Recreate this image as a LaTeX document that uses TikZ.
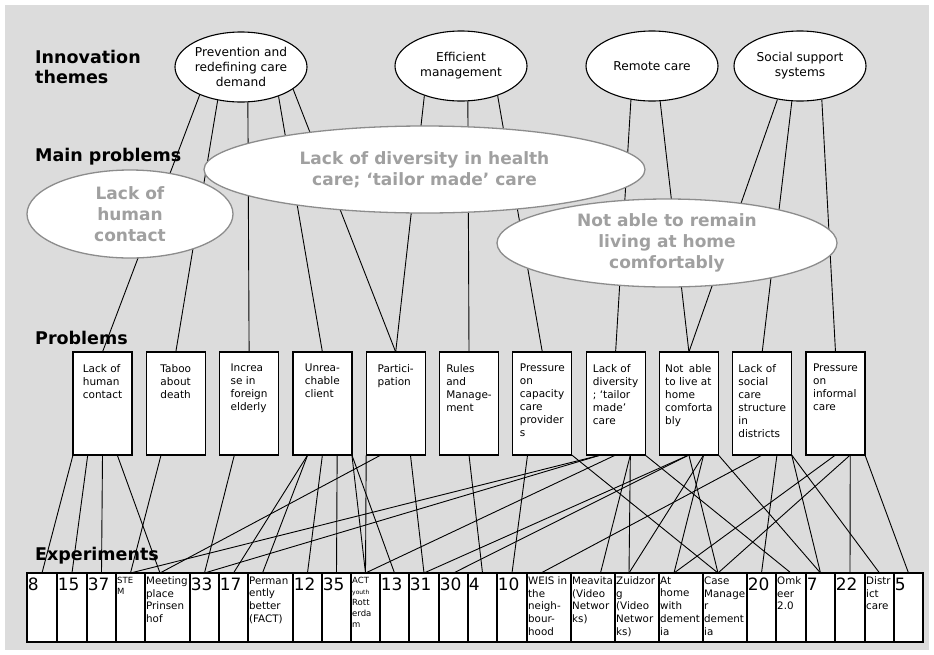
\documentclass[tikz,border=0pt]{standalone}
\usepackage{fontspec}
\setmainfont{DejaVu Sans}
\usetikzlibrary{positioning,shapes.geometric}

\definecolor{bggray}{RGB}{220,220,220}
\definecolor{ellgray}{RGB}{140,140,140}
\definecolor{txtgray}{RGB}{160,160,160}

\tikzset{
  rowlabel/.style={anchor=north west, inner sep=0pt, align=left, font=\bfseries\fontsize{17.5}{20}\selectfont},
  theme/.style={ellipse, draw, line width=1.1pt, fill=white, minimum width=132pt, minimum height=70pt, inner sep=0pt, align=center, font=\fontsize{12.2}{15}\selectfont},
  mainprob/.style={ellipse, draw=ellgray, line width=1.3pt, fill=white, text=txtgray, inner sep=0pt, align=center, font=\bfseries\fontsize{17}{21}\selectfont},
  prob/.style={draw, line width=1.2pt, fill=white, minimum width=59pt, minimum height=103pt, inner sep=0pt, outer sep=0pt, label={[probtext]north:{#1}}},
  probtext/.style={anchor=north, inner xsep=0pt, inner ysep=12pt, align=left, font=\fontsize{10.5}{13}\selectfont},
  cell/.style={draw, line width=1.2pt, fill=white, minimum height=69pt, inner sep=0pt, outer sep=0pt, anchor=north west},
  num/.style 2 args={cell, minimum width=#1, label={[numtext]north west:#2}},
  numtext/.style={anchor=north west, inner xsep=0.6pt, inner ysep=5pt, font=\fontsize{17}{17}\selectfont},
  txt/.style 2 args={cell, minimum width=#1, label={[celltext]north west:{#2}}},
  txtsmall/.style 2 args={cell, minimum width=#1, label={[celltext, font=\fontsize{8.5}{11}\selectfont]north west:{#2}}},
  celltext/.style={anchor=north west, inner xsep=1pt, inner ysep=3.5pt, align=left, font=\fontsize{10.3}{12.7}\selectfont},
  link/.style={line width=0.9pt}
}

\begin{document}
\begin{tikzpicture}[x=1pt,y=-1pt]
\useasboundingbox (0,0) rectangle (934,654);
\fill[bggray] (5,5) rectangle (929,650);

% row titles
\node[rowlabel] (lthemes) at (35,50) {Innovation\\themes};
\node[rowlabel] (lmain) at (35,148) {Main problems};
\node[rowlabel] (lprob) at (35,331) {Problems};
\node[rowlabel] (lexp) at (35,547) {Experiments};

% innovation themes
\node[theme] (prev) at (241,67) {Prevention and\\redefining care\\demand};
\node[theme] (effm) at (461,66) {Efficient\\management};
\node[theme] (remote) at (652,66) {Remote care};
\node[theme] (social) at (800,66) {Social support\\systems};

% problems
\node[prob={Lack of\\human\\contact}, anchor=north west] (p1) at (73,352) {};
\node[prob={Taboo\\about\\death}, right=14.3pt of p1] (p2) {};
\node[prob={Increa\\se in\\foreign\\elderly}, right=14.3pt of p2] (p3) {};
\node[prob={Unrea-\\chable\\client}, right=14.3pt of p3] (p4) {};
\node[prob={Partici-\\pation}, right=14.3pt of p4] (p5) {};
\node[prob={Rules\\and\\Manage-\\ment}, right=14.3pt of p5] (p6) {};
\node[prob={Pressure\\on\\capacity\\care\\provider\\s}, right=14.3pt of p6] (p7) {};
\node[prob={Lack of\\diversity\\; ‘tailor\\made’\\care}, right=14.3pt of p7] (p8) {};
\node[prob={Not\enspace able\\to live at\\home\\comforta\\bly}, right=14.3pt of p8] (p9) {};
\node[prob={Lack of\\social\\care\\structure\\in\\districts}, right=14.3pt of p9] (p10) {};
\node[prob={Pressure\\on\\informal\\care}, right=14.3pt of p10] (p11) {};

% experiments
\node[num={30}{8}] (x8) at (27,573) {};
\node[num={30}{15}, right=0pt of x8] (x15) {};
\node[num={29}{37}, right=0pt of x15] (x37) {};
\node[txtsmall={29}{STE\\M}, right=0pt of x37] (xstem) {};
\node[txt={45}{Meeting\\place\\Prinsen\\hof}, right=0pt of xstem] (xmeet) {};
\node[num={29}{33}, right=0pt of xmeet] (x33) {};
\node[num={29}{17}, right=0pt of x33] (x17) {};
\node[txt={45}{Perman\\ently\\better\\(FACT)}, right=0pt of x17] (xperm) {};
\node[num={29}{12}, right=0pt of xperm] (x12) {};
\node[num={29}{35}, right=0pt of x12] (x35) {};
\node[txtsmall={29}{ACT\\{\fontsize{6}{7}\selectfont youth}\\Rott\\erda\\m}, right=0pt of x35] (xact) {};
\node[num={29}{13}, right=0pt of xact] (x13) {};
\node[num={30}{31}, right=0pt of x13] (x31) {};
\node[num={29}{30}, right=0pt of x31] (x30) {};
\node[num={29}{4}, right=0pt of x30] (x4) {};
\node[num={30}{10}, right=0pt of x4] (x10) {};
\node[txt={44}{WEIS in\\the\\neigh-\\bour-\\hood}, right=0pt of x10] (xweis) {};
\node[txt={44}{Meavita\\(Video\\Networ\\ks)}, right=0pt of xweis] (xmeav) {};
\node[txt={44}{Zuidzor\\g\\(Video\\Networ\\ks)}, right=0pt of xmeav] (xzuid) {};
\node[txt={44}{At\\home\\with\\dement\\ia}, right=0pt of xzuid] (xhome) {};
\node[txt={44}{Case\\Manage\\r\\dement\\ia}, right=0pt of xhome] (xcase) {};
\node[num={29}{20}, right=0pt of xcase] (x20) {};
\node[txt={30}{Omk\\eer\\2.0}, right=0pt of x20] (xomk) {};
\node[num={29}{7}, right=0pt of xomk] (x7) {};
\node[num={30}{22}, right=0pt of x7] (x22) {};
\node[txt={29}{Distr\\ict\\care}, right=0pt of x22] (xdistr) {};
\node[num={29}{5}, right=0pt of xdistr] (x5) {};

% themes to problems
\foreach \t/\a/\p in {prev/214/p1, prev/235/p2, prev/281/p3, prev/322/p4, prev/337/p5,
    effm/219/p5, effm/281/p6, effm/321/p7, remote/238/p8, remote/283/p9,
    social/236/p9, social/257/p10, social/303/p11}
  \draw[link] (\t.\a) -- (\p.north);

% main problems (on top of the links)
\node[mainprob, minimum width=441pt, minimum height=87pt] (mdiv) at (424.5,169.5) {Lack of diversity in health\\care; ‘tailor made’ care};
\node[mainprob, minimum width=206pt, minimum height=88pt] (mhum) at (130,214) {Lack of\\human\\contact};
\node[mainprob, minimum width=340pt, minimum height=88pt] (mhome) at (667,243) {Not able to remain\\living at home\\comfortably};

% problems to experiments
\foreach \p/\s/\e/\o in {p1/-29.5/x8/0, p1/-14.75/x15/0, p1/0/x37/0, p1/14.75/xmeet/-7.5,
    p2/-14.75/xstem/0, p3/-14.75/x33/0,
    p4/-14.75/x17/0, p4/-14.75/xperm/-8, p4/0/x12/0, p4/14.75/x35/0, p4/29.5/xact/0, p4/29.5/x13/0,
    p5/-29.5/xact/0, p5/-14.75/xmeet/-7.5, p5/14.75/x31/0,
    p6/0/x4/0, p7/-14.75/x10/0, p7/29.5/xcase/-7,
    p8/-14.75/xstem/0, p8/-14.75/x33/0, p8/0/xact/0, p8/14.75/xmeav/7.5, p8/14.75/xzuid/-8, p8/29.5/xomk/0,
    p9/0/x31/0, p9/0/x30/0, p9/0/xcase/-7, p9/14.75/xzuid/-8, p9/14.75/xhome/-7, p9/29.5/x7/0,
    p10/0/xweis/-8, p10/14.75/x20/0, p10/29.5/x7/0, p10/29.5/xdistr/0,
    p11/0/xhome/-7, p11/14.75/xcase/-7, p11/14.75/x22/0, p11/29.5/x5/0}
  \draw[link] ([xshift=\s]\p.south) -- ([xshift=\o]\e.north);
\end{tikzpicture}
\end{document}
